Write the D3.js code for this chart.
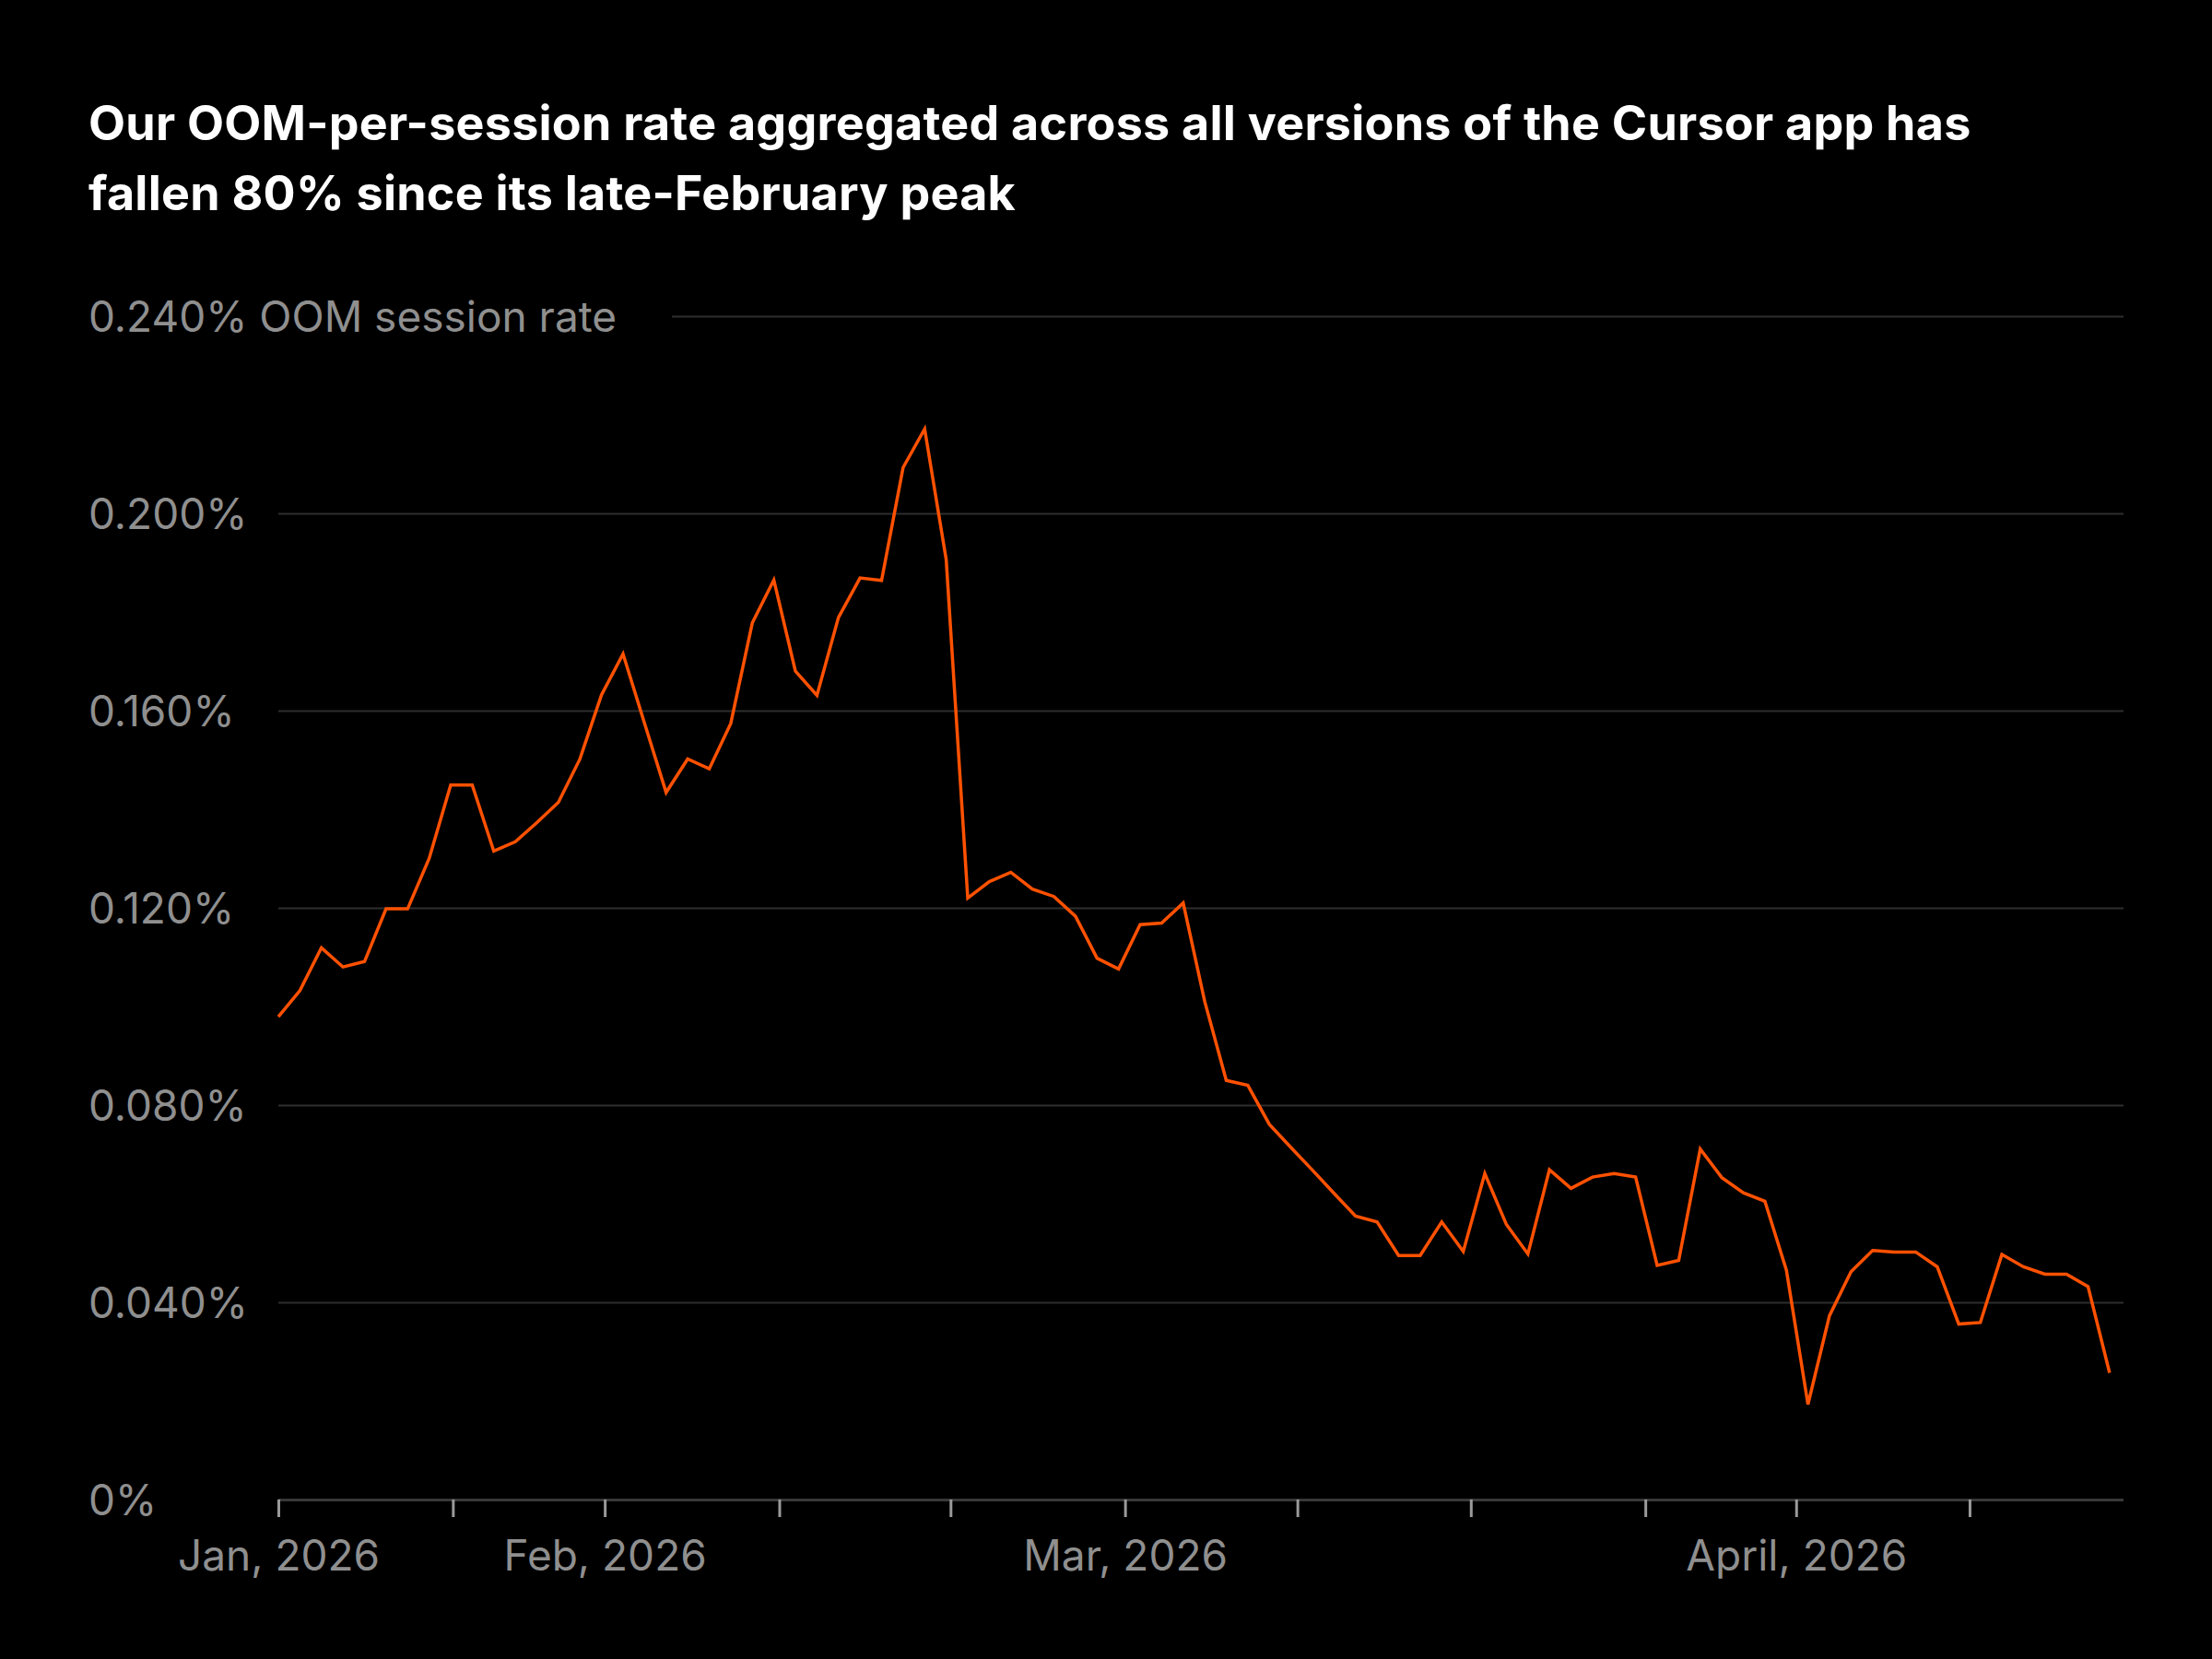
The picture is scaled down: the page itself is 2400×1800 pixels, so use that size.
<!DOCTYPE html>
<html>
<head>
    <meta charset="utf-8">
    <title>OOM session rate</title>
    <style>
        html, body { margin: 0; padding: 0; background: #000; }
        svg { display: block; font-family: Inter, "Noto Sans", sans-serif; }
    </style>
</head>
<body>

<svg id="chart" width="2400" height="1800"></svg>

<script src="https://d3js.org/d3.v7.min.js"></script>
<script type="text/javascript">

// daily OOM-per-session rate (fraction, not percent), one point per reporting day
const oomRate = [
    0.0979, 0.1032, 0.1119, 0.1080, 0.1091, 0.1198, 0.1198, 0.1300, 0.1449, 0.1449,
    0.1315, 0.1334, 0.1373, 0.1414, 0.1502, 0.1632, 0.1715, 0.1574, 0.1434, 0.1502,
    0.1482, 0.1574, 0.1778, 0.1865, 0.1680, 0.1631, 0.1789, 0.1869, 0.1864, 0.2093,
    0.2171, 0.1906, 0.1220, 0.1253, 0.1272, 0.1238, 0.1223, 0.1183, 0.1098, 0.1076,
    0.1166, 0.1169, 0.1210, 0.1010, 0.0850, 0.0840, 0.0761, 0.0714, 0.0668, 0.0621,
    0.0575, 0.0563, 0.0495, 0.0495, 0.0563, 0.0503, 0.0661, 0.0558, 0.0498, 0.0669,
    0.0631, 0.0654, 0.0661, 0.0654, 0.0475, 0.0485, 0.0711, 0.0653, 0.0622, 0.0605,
    0.0465, 0.0193, 0.0373, 0.0462, 0.0505, 0.0502, 0.0502, 0.0472, 0.0356, 0.0359,
    0.0497, 0.0472, 0.0457, 0.0457, 0.0432, 0.0257
];

// x ticks sit at these positions along the series, only some carry a label
const xTickPos = [0, 8.1, 15.15, 23.25, 31.2, 39.3, 47.3, 55.35, 63.45, 70.45, 78.5];
const xTickLabels = ['Jan, 2026', '', 'Feb, 2026', '', '', 'Mar, 2026', '', '', '', 'April, 2026', ''];

const yTicks = [0, 0.04, 0.08, 0.12, 0.16, 0.20, 0.24];
const yTickLabels = ['0%', '0.040%', '0.080%', '0.120%', '0.160%', '0.200%', '0.240% OOM session rate'];

const titleLines = [
    'Our OOM-per-session rate aggregated across all versions of the Cursor app has',
    'fallen 80% since its late-February peak'
];

function render() {
    const svg = d3.select('#chart');

    const left = 302, right = 2304, top = 343, bottom = 1627;
    const labelX = 96;

    svg.append('rect')
        .attr('width', 2400)
        .attr('height', 1800)
        .attr('fill', '#000');

    // title
    svg.append('g')
        .attr('class', 'title')
        .selectAll('text')
        .data(titleLines)
        .join('text')
            .attr('x', labelX)
            .attr('y', (d, i) => 152 + i * 76)
            .attr('fill', '#fff')
            .style('font-size', '52px')
            .style('font-weight', 700)
            .style('letter-spacing', '0.25px')
            .text(d => d);

    const x = d3.scaleLinear()
        .domain([0, oomRate.length - 1])
        .range([left, left + 23.375 * (oomRate.length - 1)]);

    const y = d3.scaleLinear()
        .domain([0, 0.24])
        .range([bottom, top]);

    // y grid + labels
    svg.append('g')
        .attr('class', 'y-axis')
        .attr('transform', `translate(${left}, 0)`)
        .call(d3.axisLeft(y)
            .tickValues(yTicks)
            .tickSize(-(right - left))
            .tickFormat((d, i) => yTickLabels[i]))
        .call(g => g.select('.domain').remove())
        .call(g => g.selectAll('.tick line')
            .attr('stroke', '#2e2e2e')
            .attr('stroke-width', 2))
        .call(g => g.selectAll('.tick')
            .filter(d => d === 0.24)
            .select('line')
            .attr('x1', 729 - left))
        .call(g => g.selectAll('.tick')
            .filter(d => d === 0)
            .select('line')
            .attr('stroke', '#383838')
            .attr('stroke-width', 3))
        .call(g => g.selectAll('.tick text')
            .attr('x', labelX - left)
            .attr('dy', '0.35em')
            .attr('text-anchor', 'start')
            .attr('fill', '#8f8f8f')
            .style('font-size', '46px')
            .style('font-family', 'Inter, "Noto Sans", sans-serif'));

    // x axis ticks + month labels
    svg.append('g')
        .attr('class', 'x-axis')
        .attr('transform', `translate(0, ${bottom})`)
        .call(d3.axisBottom(x)
            .tickValues(xTickPos)
            .tickSize(19)
            .tickPadding(25)
            .tickFormat((d, i) => xTickLabels[i]))
        .call(g => g.select('.domain').remove())
        .call(g => g.selectAll('.tick line')
            .attr('stroke', '#9a9a9a')
            .attr('stroke-width', 3))
        .call(g => g.selectAll('.tick text')
            .attr('fill', '#8f8f8f')
            .style('font-size', '46px')
            .style('font-family', 'Inter, "Noto Sans", sans-serif'));

    // the series
    const line = d3.line()
        .x((d, i) => x(i))
        .y(d => y(d));

    svg.append('path')
        .datum(oomRate)
        .attr('class', 'rate')
        .attr('d', line)
        .attr('fill', 'none')
        .attr('stroke', '#ff5100')
        .attr('stroke-width', 3.5)
        .attr('stroke-linejoin', 'miter');
}

render();

</script>
</body>
</html>
